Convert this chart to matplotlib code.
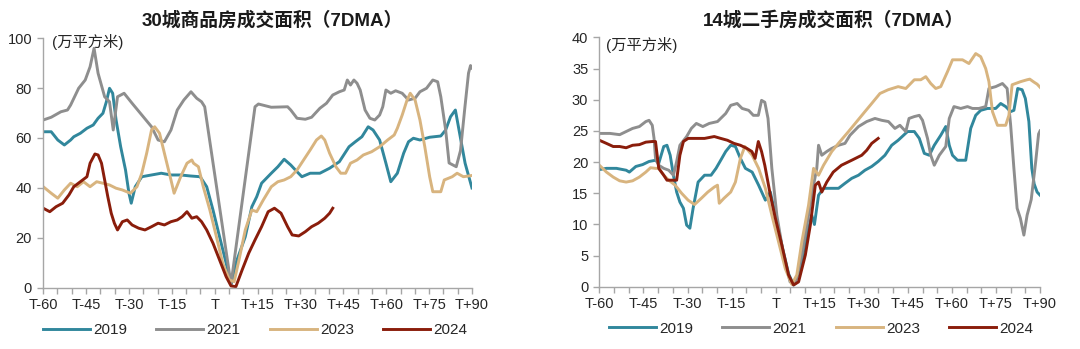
import matplotlib
matplotlib.use("Agg")
import matplotlib.pyplot as plt

plt.rcParams['font.family'] = ['Liberation Sans', 'Noto Sans CJK SC']

# ---- data: days relative to T, values in 万平方米 ----
# 30城商品房成交面积
L19_d = [-60, -57.2, -54.9, -52.6, -50.4, -49.3, -47, -44.7, -42.5, -40.8, -39.1, -37.9, -36.8, -35.7,
         -34.5, -32.9, -31.2, -30, -29.2, -27.8, -25.5, -22.1, -18.7, -15.3, -11.9, -8.5, -5.1, -2.8,
         -0.6, 1.7, 4, 5.8, 7.4, 10.7, 13, 14.7, 16.4, 19.8, 22.1, 24.3, 26.6, 28.8, 30.5, 33.4, 36.8,
         40.2, 43.6, 47, 49.2, 51.5, 53.7, 55.4, 57.7, 59.9, 61.6, 63.9, 66.1, 67.8, 69.5, 71.8, 75.2,
         79.1, 80.8, 82.5, 84.2, 85.9, 87.6, 90]
L19_v = [62.5, 62.5, 59.2, 57.2, 59.2, 60.5, 61.9, 63.9, 65.2, 67.9, 69.9, 74.5, 79.9, 77.9,
         67.2, 56.5, 47.2, 37.9, 33.9, 40.5, 44.5, 45.2, 45.9, 45.2, 45.2, 44.8, 44.5, 40.5,
         31.2, 20.5, 9.9, 1.5, 9.9, 20.5, 32.5, 36.5, 41.9, 45.9, 48.5, 51.5, 49.2, 46.5, 44.5, 45.9, 45.9,
         47.9, 50.5, 56.5, 58.5, 60.5, 64.5, 63.2, 59.2, 49.9, 42.5, 45.9, 53.9, 58.5, 59.9, 59.2, 60.3,
         60.8, 63.2, 68.5, 71.2, 60.5, 49.9, 40]

L21_d = [-60, -57.2, -53.8, -51.5, -50.4, -47.6, -45.3, -43.6, -42.2, -40.8, -38.5, -36.8, -35.5, -34,
         -31.7, -28.9, -25.5, -22.1, -19.8, -17.6, -15.3, -13.1, -10.8, -8.3, -6.3, -4.6, -3.5, -2.3,
         5.7, 14.1, 15.3, 19.8, 25.5, 26.6, 28.8, 31.7, 33.9, 36.8, 39.1, 41.3, 43.6, 45.3, 46.4, 47.5,
         48.7, 49.8, 50.9, 52.6, 54.3, 56, 57.7, 58.8, 59.9, 61.6, 63.3, 65.6, 67.8, 70.1, 71.8, 74.1,
         76.3, 78, 79.1, 80.8, 82, 84.5, 86, 87.5, 88.8, 89.5, 90]
L21_v = [67.2, 68.3, 70.5, 71.2, 73.2, 79.9, 83.2, 88.5, 95.9, 85.9, 76.5, 74.5, 63.2, 76.5,
         77.9, 73.9, 69.2, 64.5, 59.2, 58.5, 63.2, 71.2, 75.2, 78.5, 75.9, 74.5, 72.5, 63.2,
         1.5, 72.5, 73.6, 72.3, 72.5, 71.2, 67.9, 67.5, 68.3, 71.9, 73.9, 77.2, 78.5, 79.2, 83.2, 81.2,
         83.2, 81.9, 79.2, 71.2, 67.9, 67.2, 69.2, 72.5, 79.2, 77.9, 78.9, 77.9, 75.2, 75.9, 78.5, 79.9,
         83.2, 82.5, 76.5, 63.2, 50, 48.5, 55, 72, 86, 89, 88]

L23_d = [-60, -57.2, -54.9, -52.6, -50.4, -48.1, -45.9, -43.6, -41.3, -39.1, -36.8, -34.5, -32.3, -29.5,
         -27.2, -25.5, -23.8, -22.1, -21, -19.3, -17.6, -15.3, -14.2, -11.9, -9.7, -8, -7.4, -5.7, -4,
         -1.7, 0.6, 2.8, 5.1, 6.8, 8.5, 10.7, 13, 14.7, 17, 19.8, 22.1, 24.3, 26.6, 28.8, 31.1, 33.4,
         35.6, 37.3, 38.5, 40.2, 42.4, 44.1, 45.8, 47.5, 49.8, 52, 54.9, 57.7, 60.5, 62.8, 63.9, 65.6,
         67.3, 68.4, 70.1, 71.8, 73.5, 75.2, 76.3, 79.1, 80.3, 83.1, 84.8, 87, 90]
L23_v = [40.5, 37.9, 35.9, 39.2, 41.9, 40.5, 42.5, 40.5, 42.5, 41.9, 41.2, 39.9, 39.2, 37.9,
         40.5, 45.9, 53.9, 63.2, 64.5, 61.9, 53.9, 43.2, 37.9, 44.5, 49.9, 51.2, 49.9, 48.5, 40.5,
         31.2, 20.5, 9.9, 3.2, 2.5, 11.2, 23.2, 31.2, 30.5, 35.2, 40.5, 42.5, 43.2, 44.5, 47.2, 51.2, 55.2,
         59.2, 60.8, 59.2, 53.9, 48.5, 45.9, 45.9, 49.9, 51.2, 53.2, 54.5, 56.5, 59.2, 61.2, 63.9, 69.2,
         75.2, 77.9, 75.2, 67.2, 56.5, 44.5, 38.5, 38.5, 43.2, 44.5, 45.9, 44.5, 45]

L24_d = [-60, -57.7, -55.5, -53.2, -51, -49.3, -47, -44.7, -43.6, -41.9, -40.8, -39.6, -38.5, -37.4,
         -36.2, -35.1, -34, -32.3, -30.6, -28.9, -26.6, -24.4, -22.1, -19.8, -17.6, -15.3, -13.1, -11.4,
         -9.7, -8, -6.3, -4.6, -2.8, -0.6, 1.7, 4, 5.7, 7.4, 9.6, 11.9, 14.1, 16.4, 18.7, 20.9, 23.2,
         25.5, 27.1, 29.4, 31.7, 33.9, 36.2, 38.5, 40.2, 41.3]
L24_v = [31.9, 30.5, 32.5, 33.9, 37.2, 40.5, 42.5, 44.5, 49.9, 53.6, 53.2, 49.9, 43.2, 36.5,
         29.9, 25.9, 23.2, 26.5, 27.2, 25.2, 23.9, 23.2, 24.5, 25.9, 25.2, 26.5, 27.2, 28.5,
         30.5, 27.9, 28.5, 26.5, 23.2, 17.9, 11.2, 4.5, 0.8, 0.5, 7.2, 13.9, 19.2, 24.5, 30.5, 31.9, 29.9,
         24.5, 21.2, 20.8, 22.5, 24.5, 25.9, 27.9, 29.9, 31.9]

# 14城二手房成交面积
R19_d = [-60, -57.6, -54.2, -50.9, -49.8, -47.6, -45.3, -43.1, -40.9, -39.8, -38.1, -37, -35.9, -34.8,
         -33.7, -32.6, -31.4, -30.3, -29.2, -28.1, -26.4, -24.2, -22, -20.3, -18.7, -17, -15.3, -13.7,
         -12, -10.3, -8, -5.8, -3.5, -1.8, -0.1, 2.1, 4.4, 6.1, 8.4, 10.1, 12.3, 13.2, 14.6, 16.3, 21.4,
         23.6, 25.9, 28.2, 30.4, 32.7, 34.9, 37.2, 39.5, 41.7, 44.9, 47.2, 48.9, 50.6, 52.3, 54, 56.2,
         57.9, 59.1, 60.2, 61.9, 64.7, 66.4, 68.1, 69.8, 72.1, 74.9, 76.6, 78.3, 80, 81.1, 82.4, 83.9,
         85, 86.2, 87.2, 88, 89, 90]
R19_v = [18.8, 19, 19, 18.7, 18.4, 19.3, 19.6, 20.1, 20.3, 19.8, 22.5, 22.7, 21.1, 17.9,
         15.2, 13.6, 12.6, 9.9, 9.4, 12.6, 16.8, 17.9, 17.9, 19, 20.3, 21.7, 22.7, 22.5,
         20.6, 19, 18.4, 16.3, 13.9, 15.2, 11.5, 6.7, 2.1, 0.3, 2.9, 7.2, 11.5, 10, 14.7, 15.8, 15.8,
         16.6, 17.4, 17.9, 18.7, 19.3, 20.1, 21.1, 22.7, 23.5, 24.9, 24.9, 23.8, 21.4, 21.1, 22.7, 24.3,
         25.7, 22.7, 21.1, 20.3, 20.3, 25.4, 27.5, 28.3, 28.6, 28.6, 29.4, 28.9, 28.1, 28.3, 31.8, 31.6,
         30.2, 26.5, 19, 16.5, 15.2, 14.7]

R21_d = [-60, -56.4, -53.1, -50.9, -48.7, -46.4, -44.2, -43.1, -42, -41.4, -40.9, -39.8, -38.1, -36.4,
         -34.8, -33.7, -32.6, -30.3, -28.7, -27, -24.8, -22.6, -19.8, -17, -15.3, -13.1, -11.4, -9.2,
         -7.6, -5.9, -4.8, -3.7, -2.6, -1.3, 0.4, 2.7, 4.9, 6.7, 8.9, 11.2, 12.9, 14, 14.6, 15.7, 17.4,
         19.1, 21.4, 23.6, 25.3, 28.2, 31, 33.8, 36.1, 38.4, 40.6, 42.3, 44.3, 45.4, 47.2, 48.9, 50,
         51.7, 52.8, 54, 55.7, 57.9, 59.1, 60.7, 63, 65.3, 67, 69.2, 71.5, 72.6, 74.9, 77.2, 78.8, 80,
         81.1, 82.2, 83.3, 84.5, 85.6, 87, 88.5, 89.5, 90]
R21_v = [24.6, 24.6, 24.4, 24.9, 25.4, 25.7, 26.5, 26.7, 25.9, 23.8, 20.6, 19.5, 19, 18.7,
         17.9, 20.1, 22.7, 24.1, 25.4, 26.2, 25.7, 26.2, 26.5, 27.8, 29.1, 29.4, 28.6, 28.3,
         27.5, 27.5, 29.9, 29.6, 27, 19, 11.5, 5.1, 0.8, 0.5, 5.1, 11.5, 16.3, 19, 22.7, 21.1, 21.7,
         22.2, 22.7, 23, 24.3, 25.7, 26.5, 27, 26.7, 26.5, 25.4, 25.9, 24.9, 27, 27.3, 27.5, 26.7,
         23.8, 21.1, 19.5, 21.1, 22.5, 27, 28.9, 28.6, 28.9, 28.6, 28.6, 28.9, 31.8, 32.1, 32.6, 31.8, 25.9,
         19, 12.6, 11, 8.3, 11.5, 14, 20, 24.5, 25]

R23_d = [-60, -57.6, -55.3, -53.1, -50.9, -48.7, -46.4, -44.2, -42.6, -40.9, -39.8, -38.1, -36.4, -34.2,
         -32, -29.8, -27.6, -25.3, -23.1, -20.9, -19.8, -19.2, -17.6, -15.3, -13.7, -12, -10.5, -8,
         -5.8, -3.5, -1.3, 1, 3.3, 5.5, 7.2, 8.9, 11.2, 12.9, 14.6, 16.3, 19.1, 21.9, 24.8, 27.6, 30.4,
         32.7, 35.5, 38.3, 41.7, 44.3, 47.2, 49.4, 51.1, 52.8, 54.5, 56.2, 58.5, 60.2, 63.6, 65.8, 68.1,
         69.8, 71.5, 72.6, 73.8, 75.5, 78.3, 79.4, 80.5, 83.4, 85.6, 86.5, 88, 89, 90]
R23_v = [19.5, 18.4, 17.6, 17, 16.8, 17, 17.6, 18.4, 19.1, 19, 19, 17.9, 17.1, 16.3,
         15, 13.9, 13.2, 14.2, 15.2, 16, 16.3, 13.4, 14.2, 15.2, 16.8, 20.6, 22.5, 21.1,
         19, 15.8, 11.5, 7.2, 2.9, 0.4, 1.9, 7.2, 13.1, 19, 17.9, 19.5, 21.7, 23.3, 24.9, 26.5, 28.1,
         29.4, 31, 31.6, 32.1, 31.8, 33.2, 33.2, 33.7, 32.6, 31.8, 32.1, 34.5, 36.4, 36.4, 35.8, 37.4,
         36.9, 35, 32.9, 28.1, 25.9, 25.9, 27.5, 32.4, 32.9, 33.2, 33.3, 32.8, 32.5, 32]

R24_d = [-60, -57.6, -55.3, -53.1, -50.9, -48.7, -46.4, -44.2, -42, -40.9, -39.8, -38.1, -37, -35.3,
         -33.7, -32.6, -31.4, -29.8, -27.6, -24.2, -20.9, -18.7, -16.4, -14.2, -12, -9.8, -8.1, -7,
         -5.9, -4.8, -3.7, -1.8, -0.1, 2.1, 4.4, 6.1, 7.8, 10.1, 11.8, 13.5, 14.6, 15.7, 17.4, 19.6,
         22.4, 25.9, 29.3, 31, 32.7, 34.9]
R24_v = [23.5, 23, 22.5, 22.5, 22.3, 22.7, 22.8, 23.2, 23.3, 23.3, 19, 17.9, 17.1, 17.1,
         17.1, 21.1, 23.3, 23.8, 23.8, 23.8, 24.1, 23.8, 23.5, 23, 22.7, 22.2, 21.7, 20.6,
         23.3, 21.7, 19.5, 14.7, 11, 6.7, 1.9, 0.3, 0.8, 5.1, 9.9, 16.3, 16.8, 15.2, 16.8, 18.4,
         19.5, 20.3, 21.1, 21.9, 23, 23.8]

years = ['2019', '2021', '2023', '2024']
colors = ['#31879C', '#8E8E8E', '#D8B47F', '#8A1D0B']
tick_pos = list(range(-60, 91, 5))
tick_lab = [('T' if t == 0 else ('T%+d' % t)) if t % 15 == 0 else '' for t in tick_pos]
axis_col = '#A6A6A6'
text_col = '#262626'


def style_axis(ax, ymax, ystep):
    ax.set_xlim(-60, 90)
    ax.set_ylim(0, ymax)
    ax.set_xticks(tick_pos)
    ax.set_xticklabels(tick_lab)
    ax.set_yticks(range(0, ymax + 1, ystep))
    for s in ['top', 'right']:
        ax.spines[s].set_visible(False)
    for s in ['left', 'bottom']:
        ax.spines[s].set_color(axis_col)
        ax.spines[s].set_linewidth(1.0)
    ax.tick_params(axis='both', colors=axis_col, labelcolor=text_col, labelsize=10.5,
                   length=4, width=1.0, direction='out')
    ax.tick_params(axis='x', pad=3)
    ax.tick_params(axis='y', pad=4)


fig = plt.figure(figsize=(10.8, 3.49), dpi=100)
ax1 = fig.add_axes([0.040, 0.175, 0.397, 0.716])
ax2 = fig.add_axes([0.555, 0.178, 0.408, 0.715])

left_series = [(L19_d, L19_v), (L21_d, L21_v), (L23_d, L23_v), (L24_d, L24_v)]
right_series = [(R19_d, R19_v), (R21_d, R21_v), (R23_d, R23_v), (R24_d, R24_v)]

for ax, series in [(ax1, left_series), (ax2, right_series)]:
    for (d, v), c, y in zip(series, colors, years):
        ax.plot(d, v, color=c, lw=2.1, label=y, solid_joinstyle='round')

style_axis(ax1, 100, 20)
style_axis(ax2, 40, 5)

ax1.text(0.021, 0.985, '(万平方米)', transform=ax1.transAxes, fontsize=11, color=text_col,
         va='center', ha='left')
ax2.text(0.014, 0.97, '(万平方米)', transform=ax2.transAxes, fontsize=11, color=text_col,
         va='center', ha='left')

fig.text(272 / 1080, 1 - 20 / 349, '30城商品房成交面积（7DMA）', ha='center', va='center',
         fontsize=13.5, fontweight='bold', color='#1a1a1a')
fig.text(833 / 1080, 1 - 20 / 349, '14城二手房成交面积（7DMA）', ha='center', va='center',
         fontsize=13.5, fontweight='bold', color='#1a1a1a')

for ax, xc in [(ax1, 0.494), (ax2, 0.503)]:
    ax.legend(loc='center', bbox_to_anchor=(xc, -0.168), ncol=4, frameon=False,
              fontsize=11, handlelength=3.1, handletextpad=0.2, columnspacing=1.9,
              labelcolor=text_col)

fig.savefig('out.png', dpi=100)
